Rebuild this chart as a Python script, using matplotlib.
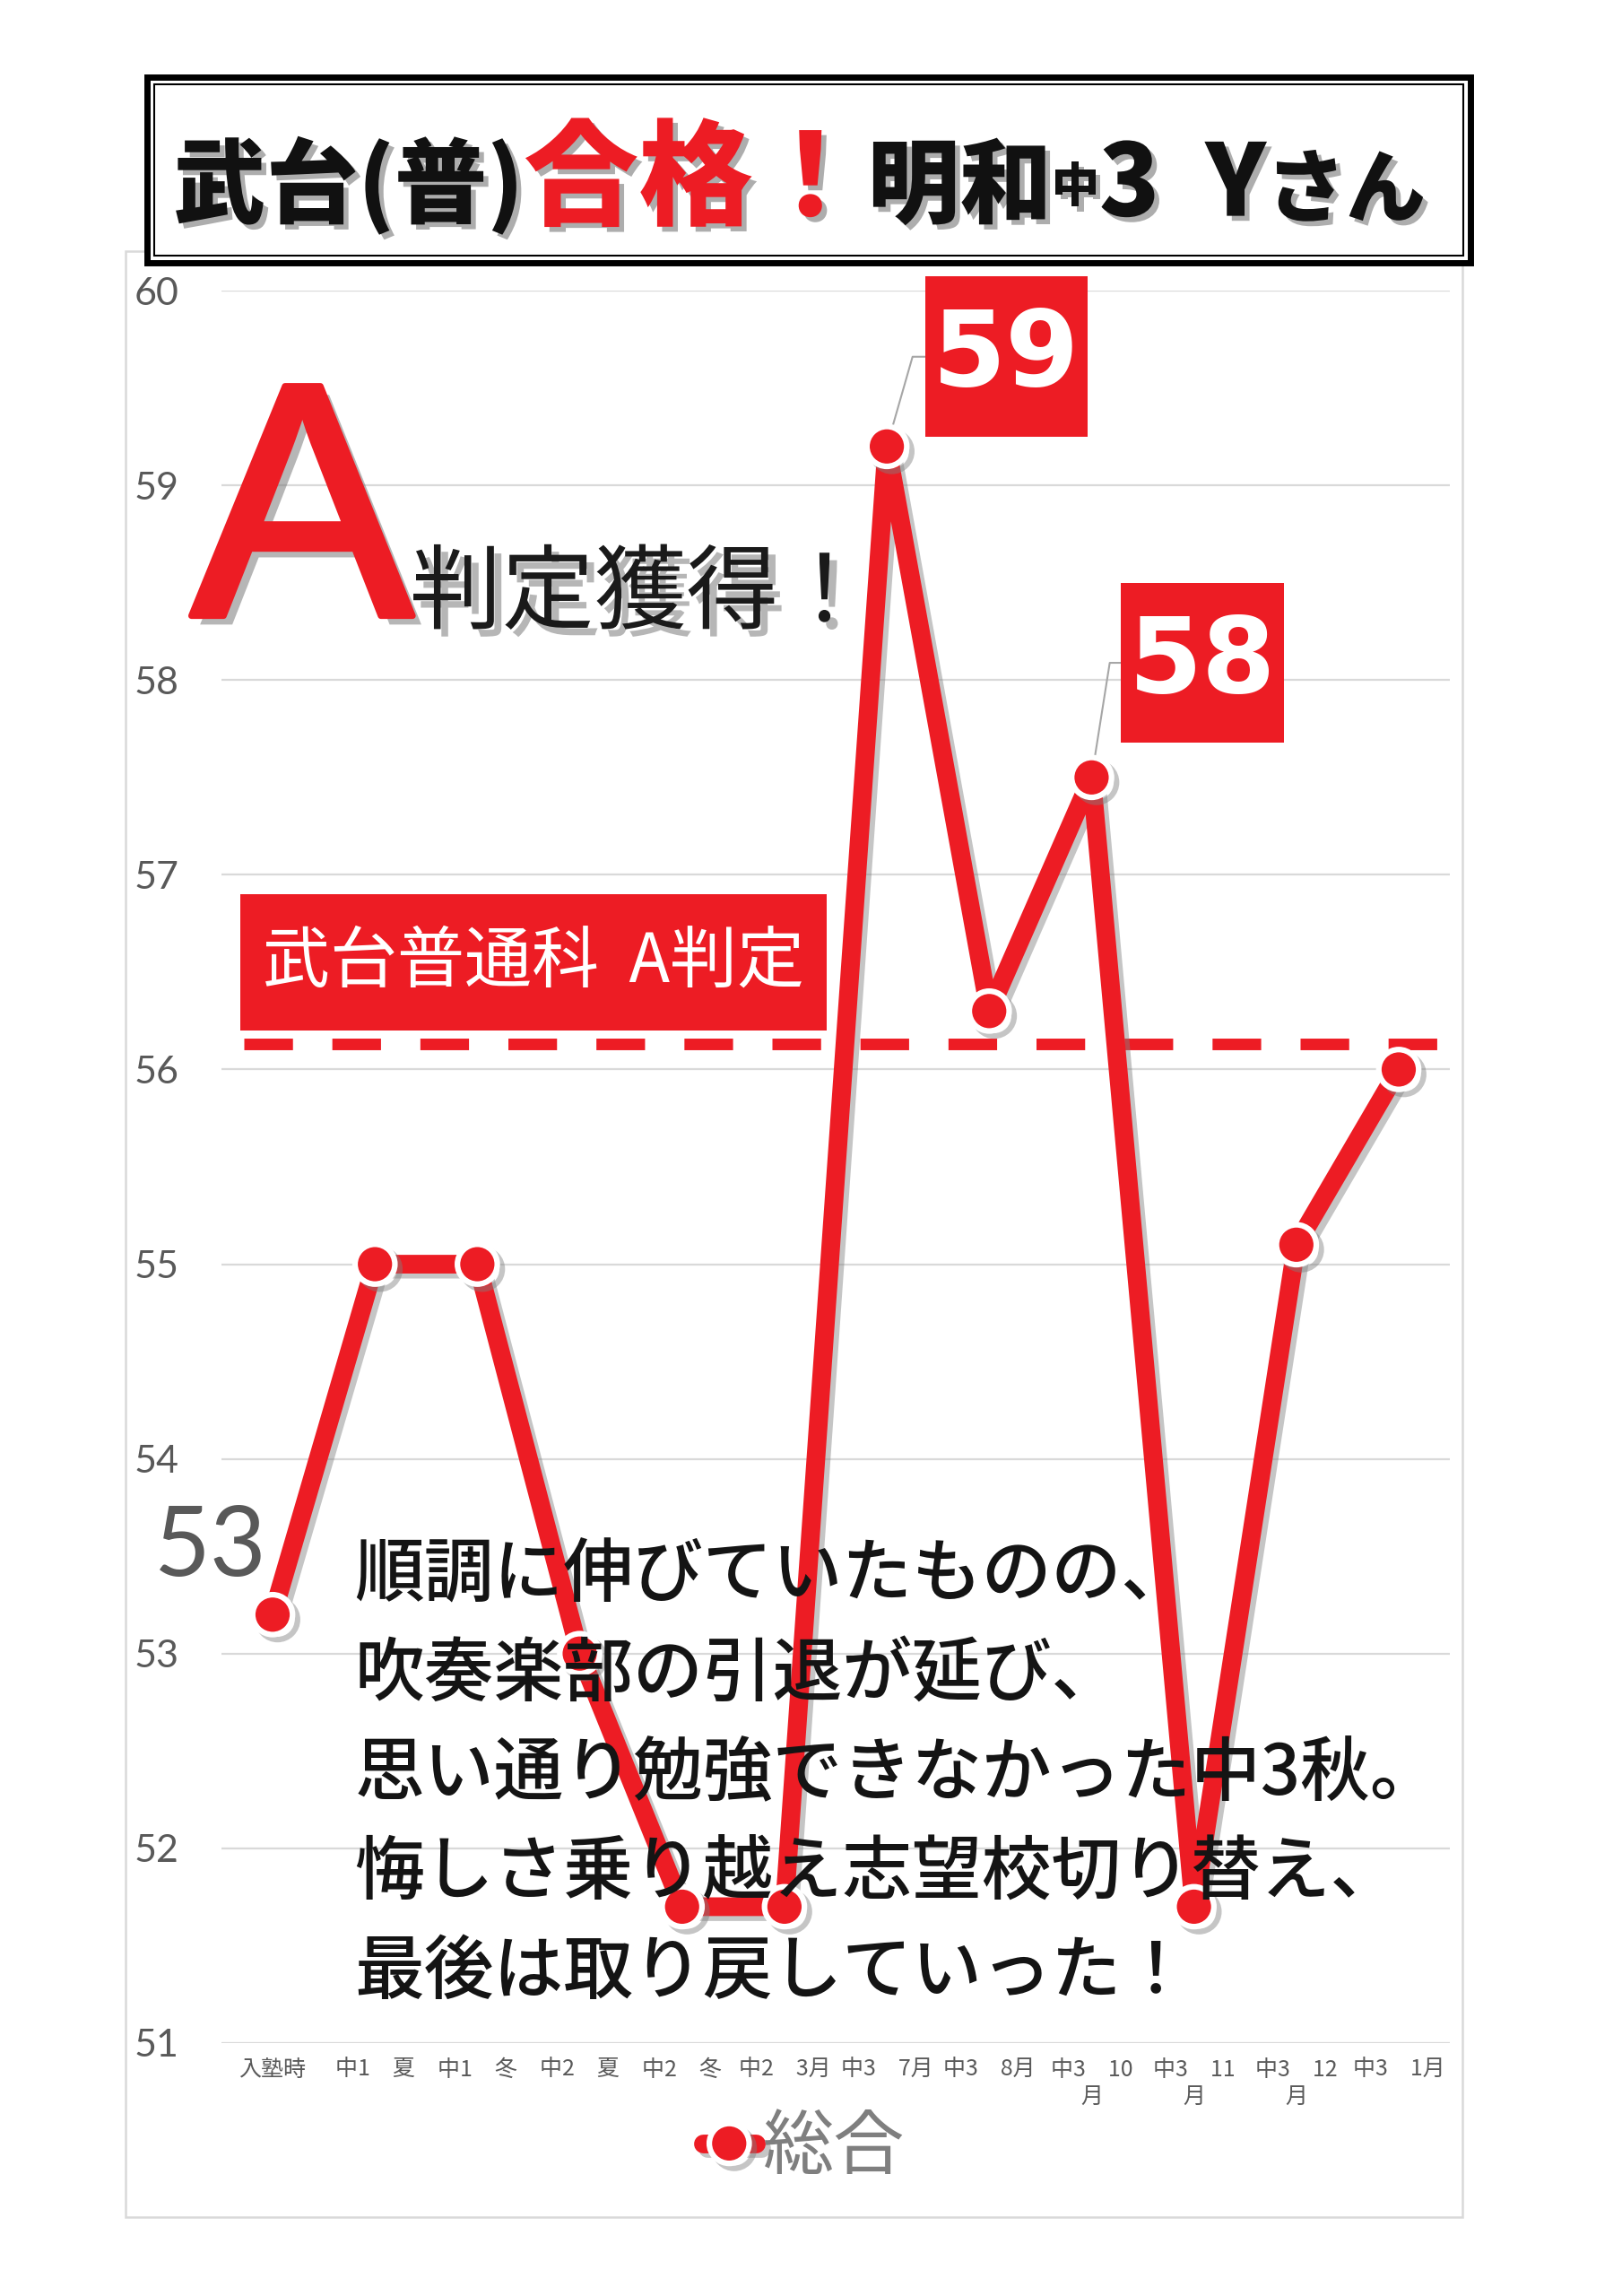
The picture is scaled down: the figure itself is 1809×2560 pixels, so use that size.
import matplotlib
matplotlib.use("Agg")
import matplotlib.pyplot as plt
import matplotlib.patheffects as pe
from matplotlib.patches import Rectangle
from matplotlib.path import Path
from matplotlib.text import Annotation

plt.rcParams['font.family'] = ['Noto Sans CJK JP', 'DejaVu Sans']

# data
categories = ["入塾時", "中1　夏", "中1　冬", "中2　夏", "中2　冬", "中2　3月",
              "中3　7月", "中3　8月", "中3　10\n月", "中3　11\n月", "中3　12\n月", "中3　1月"]
scores = [53.2, 55.0, 55.0, 53.0, 51.7, 51.7, 59.2, 56.3, 57.5, 51.7, 55.1, 56.0]
a_line = 56.13
y_ticks = [51, 52, 53, 54, 55, 56, 57, 58, 59, 60]

boxed_idx = [6, 8]
boxed_offset = [(96, 72), (89, 92)]
boxed_angle = [74, 81]
plain_idx = 0

title_parts = ["武台(普)", "合格！", "明和", "中", "3  Y", "さん"]
title_colors = ["#111111", "#ED1C24", "#111111", "#111111", "#111111", "#111111"]
title_sizes = [74, 92, 74, 38, 80, 64]
title_lift = [0, 0, 0, 0.006, 0, 0]

comment_lines = ["順調に伸びていたものの、",
                 "吹奏楽部の引退が延び、",
                 "思い通り勉強できなかった中3秋。",
                 "悔しさ乗り越え志望校切り替え、",
                 "最後は取り戻していった！"]

RED = "#ED1C24"
GRAY = "#595959"
GRID = "#D9D9D9"


def padded_box(pad_x, pad_y):
    # rectangle around the text with separate horizontal / vertical padding
    def box(x0, y0, width, height, mutation_size):
        px, py = pad_x * mutation_size, pad_y * mutation_size
        x1, y1 = x0 - px, y0 - py
        x2, y2 = x0 + width + px, y0 + height + py
        return Path([(x1, y1), (x2, y1), (x2, y2), (x1, y2), (x1, y1)], closed=True)
    return box


fig = plt.figure(figsize=(18.09, 25.6), dpi=100)
ax = fig.add_axes([0.1365, 0.1102, 0.7574, 0.7632])

x = list(range(len(categories)))
shadow = [pe.SimpleLineShadow(offset=(4, -4), shadow_color="#808080", alpha=0.45), pe.Normal()]

ax.axhline(a_line, xmin=0.018, xmax=1.008, color=RED, lw=9.3, dashes=(4.2, 3.4),
           dash_capstyle="butt", clip_on=False, zorder=2)
ax.plot(x, scores, color=RED, lw=15, marker="o", ms=32, mfc=RED, mec="white", mew=4.5,
        solid_joinstyle="round", solid_capstyle="round", label="総合", zorder=3,
        clip_on=False, path_effects=shadow)

ax.set_xlim(-0.5, len(categories) - 0.5)
ax.set_ylim(y_ticks[0], y_ticks[-1])
ax.set_yticks(y_ticks)
ax.set_xticks(x, categories)
ax.tick_params(axis="y", length=0, pad=34, labelsize=31, labelcolor=GRAY)
ax.tick_params(axis="x", length=0, pad=12, labelsize=18, labelcolor=GRAY)
for lab in ax.get_yticklabels():
    lab.set_family(["Lato", "DejaVu Sans"])
ax.grid(axis="y", color=GRID, lw=1.6)
ax.set_axisbelow(True)
for s in ax.spines.values():
    s.set_visible(False)

# boxed value labels
for i, off, ang in zip(boxed_idx, boxed_offset, boxed_angle):
    ax.annotate(f"{round(scores[i])}", xy=(i, scores[i]), xytext=off, textcoords="offset points",
                ha="center", va="center", fontsize=85, fontweight="bold", color="white",
                family=["DejaVu Sans"], zorder=2.5, annotation_clip=False,
                bbox=dict(boxstyle=padded_box(0.075, 0.27), fc=RED, ec="none"),
                arrowprops=dict(arrowstyle="-", color="#A6A6A6", lw=1.5, relpos=(0, 0.5),
                                connectionstyle=f"angle,angleA=180,angleB={ang},rad=0",
                                shrinkA=0, shrinkB=0))

ax.annotate(f"{round(scores[plain_idx])}", xy=(plain_idx, scores[plain_idx]), xytext=(-50, 53),
            textcoords="offset points", ha="center", va="center", fontsize=78,
            color=GRAY, family=["Lato", "DejaVu Sans"], annotation_clip=False)

# big A
txt_shadow = [pe.withSimplePatchShadow(offset=(6, -6), shadow_rgbFace="#7a7a7a", alpha=0.55)]
ax.text(-0.80, 58.33, "A", fontsize=268, color=RED, family=["Liberation Sans"],
        ha="left", va="baseline", clip_on=False, zorder=4,
        path_effects=[pe.withSimplePatchShadow(offset=(7, -7), shadow_rgbFace="#7a7a7a", alpha=0.55),
                      pe.Stroke(linewidth=5, foreground=RED), pe.Normal()])
ax.text(1.34, 58.30, "判定獲得！", fontsize=74, color="#1a1a1a", ha="left", va="baseline",
        zorder=4, path_effects=txt_shadow)

# A-line box
ax.text(2.55, a_line + 0.42, "武台普通科  A判定", fontsize=54, color="white", ha="center",
        va="center", zorder=4, bbox=dict(boxstyle=padded_box(0.33, 0.5), fc=RED, ec="none"))

# comment block
for k, line in enumerate(comment_lines):
    ax.text(0.80, 53.40 - 0.51 * k, line, fontsize=56, fontweight="medium", color="#141414",
            ha="left", va="center", zorder=5)

leg = ax.legend(loc="center", bbox_to_anchor=(0.474, -0.060), frameon=False, fontsize=57,
                labelcolor="#7f7f7f", handlelength=0.75, handletextpad=0.1)

# outer chart frame
fig.patches.append(Rectangle((0.0774, 0.0344), 0.8242, 0.8562, transform=fig.transFigure,
                             fill=False, ec=GRID, lw=1.8, zorder=1))
# title box
fig.patches.append(Rectangle((0.0907, 0.8855), 0.8159, 0.0809, transform=fig.transFigure,
                             fc="white", ec="black", lw=5, zorder=2))
fig.patches.append(Rectangle((0.0951, 0.8886), 0.8071, 0.0747, transform=fig.transFigure,
                             fill=False, ec="black", lw=1.5, zorder=2))

base = 0.906
prev = fig.text(0.107, base, title_parts[0], fontsize=title_sizes[0], fontweight="heavy",
                color=title_colors[0], ha="left", va="baseline", zorder=3,
                path_effects=[pe.withSimplePatchShadow(offset=(4, -4), shadow_rgbFace="#777777", alpha=0.6)])
for part, col, size, lift in zip(title_parts[1:], title_colors[1:], title_sizes[1:], title_lift[1:]):
    t = Annotation(part, xy=(1.0, base + lift), xycoords=(prev, "figure fraction"),
                   fontsize=size, fontweight="heavy", color=col, ha="left", va="baseline",
                   zorder=3,
                   path_effects=[pe.withSimplePatchShadow(offset=(4, -4), shadow_rgbFace="#777777", alpha=0.6)])
    fig.add_artist(t)
    prev = t

fig.savefig("out.png", dpi=100, facecolor="white")
